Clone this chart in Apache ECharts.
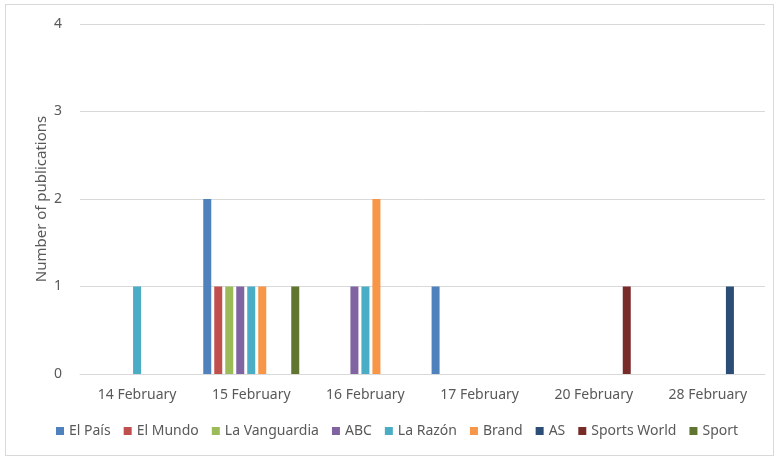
<!DOCTYPE html>
<html>
<head>
<meta charset="utf-8">
<script src="https://cdn.jsdelivr.net/npm/echarts@6/dist/echarts.min.js"></script>
<style>
  html, body { margin: 0; padding: 0; background: #fff; }
  #chart { width: 779px; height: 457px; }
  #frame { position: absolute; left: 5px; top: 4px; width: 767px; height: 450px; border: 1px solid #d9d9d9; pointer-events: none; }
</style>
</head>
<body>
<div id="chart"></div>
<div id="frame"></div>
<script>
const days = ['14 February', '15 February', '16 February', '17 February', '20 February', '28 February'];
const papers = ['El País', 'El Mundo', 'La Vanguardia', 'ABC', 'La Razón', 'Brand', 'AS', 'Sports World', 'Sport'];
const colors = ['#4F81BD', '#C0504D', '#9BBB59', '#8064A2', '#4BACC6', '#F79646', '#2C4D75', '#772C2A', '#5F7530'];

// publications per day, one array per newspaper
const elPais       = [0, 2, 0, 1, 0, 0];
const elMundo      = [0, 1, 0, 0, 0, 0];
const laVanguardia = [0, 1, 0, 0, 0, 0];
const abc          = [0, 1, 1, 0, 0, 0];
const laRazon      = [1, 1, 1, 0, 0, 0];
const brand        = [0, 1, 2, 0, 0, 0];
const as           = [0, 0, 0, 0, 0, 1];
const sportsWorld  = [0, 0, 0, 0, 1, 0];
const sport        = [0, 1, 0, 0, 0, 0];
const values = [elPais, elMundo, laVanguardia, abc, laRazon, brand, as, sportsWorld, sport];

const yTicks = [0, 1, 2, 3, 4];
const yTitle = 'Number of publications';

const font = 'Noto Sans, sans-serif';
const myChart = echarts.init(document.getElementById('chart'));

const option = {
  color: colors,
  animation: false,
  textStyle: { fontFamily: font },
  grid: { left: 80, right: 14, top: 24, bottom: 83 },
  legend: {
    data: papers,
    bottom: 14,
    left: 51,
    icon: 'rect',
    itemWidth: 8,
    itemHeight: 8,
    itemGap: 13,
    textStyle: { color: '#595959', fontSize: 14, fontFamily: font }
  },
  // y axis title drawn by hand, the axis name would not move with nameGap
  graphic: [{
    type: 'text',
    x: 42,
    y: 199,
    rotation: Math.PI / 2,
    style: {
      text: yTitle,
      fill: '#595959',
      font: '15px ' + font,
      align: 'center',
      verticalAlign: 'middle'
    }
  }],
  xAxis: {
    type: 'category',
    data: days,
    axisLine: { show: true, lineStyle: { color: '#d9d9d9' } },
    axisTick: { show: false },
    axisLabel: { color: '#595959', fontSize: 14, margin: 14, interval: 0 }
  },
  yAxis: {
    type: 'value',
    min: yTicks[0],
    max: yTicks[yTicks.length - 1],
    interval: 1,
    axisLabel: { color: '#595959', fontSize: 14, margin: 18 },
    splitLine: { lineStyle: { color: '#d9d9d9' } }
  },
  series: papers.map((name, i) => ({
    name: name,
    type: 'bar',
    data: values[i],
    barWidth: 8,
    barGap: '37.5%',
    itemStyle: { color: colors[i] }
  }))
};

myChart.setOption(option);
</script>
</body>
</html>
